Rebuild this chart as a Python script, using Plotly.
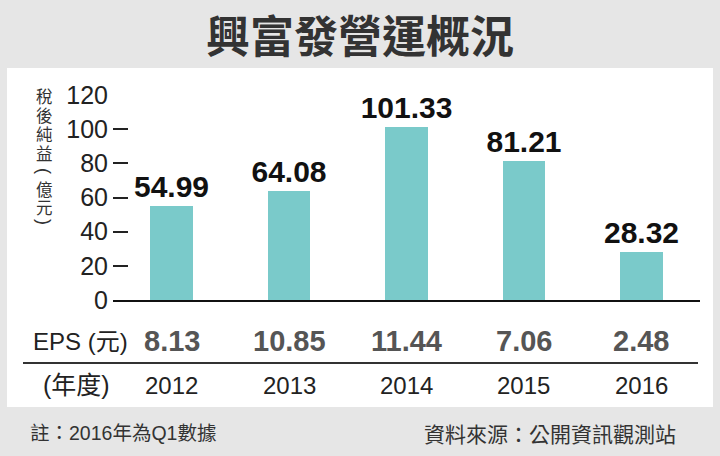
import plotly.graph_objects as go

# ---- data ----
years = ["2012", "2013", "2014", "2015", "2016"]
net_income = [54.99, 64.08, 101.33, 81.21, 28.32]   # 稅後純益(億元)
eps = [8.13, 10.85, 11.44, 7.06, 2.48]               # EPS(元)
y_ticks = [0, 20, 40, 60, 80, 100, 120]

title_text = "興富發營運概況"
y_title_chars = ["稅", "後", "純", "益", "(", "億", "元", ")"]
note_left = "註：2016年為Q1數據"
note_right = "資料來源：公開資訊觀測站"

# ---- layout geometry (pixels) ----
W, H = 720, 456
L, R = 113, 700
T, B = 95, 300   # pixel rows of y=120 and y=0
PW, PH = R - L, B - T

def px(x):
    return (x - L) / PW

def py(y):
    return (B - y) / PH

LAT = "Liberation Sans, Arial, Noto Sans CJK TC, sans-serif"
CJK = "Noto Sans CJK TC, Noto Sans CJK SC, sans-serif"

fig = go.Figure()
fig.add_trace(go.Bar(
    x=years, y=net_income,
    marker=dict(color="#7acaca", line=dict(width=0)),
    width=0.362,
    text=[f"{v:.2f}" for v in net_income],
    textposition="outside",
    constraintext="none",
    textfont=dict(family=LAT, size=30, color="#111111", weight="bold"),
    cliponaxis=False,
    hoverinfo="skip",
))

annotations = []
# title
annotations.append(dict(
    x=px(360), y=py(34), xref="paper", yref="paper", showarrow=False,
    text=title_text, xanchor="center", yanchor="middle",
    font=dict(family=CJK, size=44, color="#333333", weight="bold"),
))
# vertical y-axis title (stacked characters, parentheses turned upright)
char_ys = [96, 115, 134, 153, 171, 189, 207, 222]
for ch, cy in zip(y_title_chars, char_ys):
    paren = ch in "()"
    annotations.append(dict(
        x=px(44), y=py(cy), xref="paper", yref="paper", showarrow=False,
        text=ch, xanchor="center", yanchor="middle",
        textangle=90 if paren else 0,
        font=dict(family=LAT if paren else CJK, size=18 if paren else 16.5, color="#333333"),
    ))
# EPS row
annotations.append(dict(
    x=px(31), y=py(341), xref="paper", yref="paper", showarrow=False,
    text="EPS (元)", xanchor="left", yanchor="middle",
    font=dict(family=LAT, size=24, color="#222222"),
))
for i, v in enumerate(eps):
    annotations.append(dict(
        x=i, y=py(341), xref="x", yref="paper", showarrow=False,
        text=f"{v:.2f}", xanchor="center", yanchor="middle",
        font=dict(family=LAT, size=29, color="#555555", weight="bold"),
    ))
# year row
annotations.append(dict(
    x=px(41), y=py(385), xref="paper", yref="paper", showarrow=False,
    text="(年度)", xanchor="left", yanchor="middle",
    font=dict(family=LAT, size=25, color="#222222"),
))
for i, yr in enumerate(years):
    annotations.append(dict(
        x=i, y=py(385), xref="x", yref="paper", showarrow=False,
        text=yr, xanchor="center", yanchor="middle",
        font=dict(family=LAT, size=24, color="#222222"),
    ))
# notes
annotations.append(dict(
    x=px(28), y=py(433), xref="paper", yref="paper", showarrow=False,
    text=note_left, xanchor="left", yanchor="middle",
    font=dict(family=LAT, size=19.5, color="#333333"),
))
annotations.append(dict(
    x=px(678), y=py(433), xref="paper", yref="paper", showarrow=False,
    text=note_right, xanchor="right", yanchor="middle",
    font=dict(family=CJK, size=21, color="#333333"),
))

shapes = [
    # white panel
    dict(type="rect", xref="paper", yref="paper", layer="below",
         x0=px(7), x1=px(713), y0=py(407), y1=py(68),
         fillcolor="white", line=dict(width=0)),
    # separator line between EPS and year rows
    dict(type="line", xref="paper", yref="paper",
         x0=px(23), x1=px(698), y0=py(363), y1=py(363),
         line=dict(color="#333333", width=2)),
]

fig.update_layout(
    width=W, height=H,
    margin=dict(l=L, r=W - R, t=T, b=H - B, pad=0),
    paper_bgcolor="#e6e6e6",
    plot_bgcolor="rgba(0,0,0,0)",
    showlegend=False,
    bargap=0,
    annotations=annotations,
    shapes=shapes,
    xaxis=dict(
        type="category", range=[-0.5, 4.5],
        showticklabels=False, ticks="", showgrid=False, zeroline=False,
        showline=True, linecolor="#111111", linewidth=2,
        fixedrange=True,
    ),
    yaxis=dict(
        range=[0, 120], tickvals=y_ticks,
        ticks="inside", ticklen=15, tickwidth=1.5, tickcolor="#222222",
        ticklabelstandoff=4,
        tickfont=dict(family="Liberation Sans, Arial, sans-serif", size=25, color="#222222"),
        showgrid=False, zeroline=False, showline=False,
        fixedrange=True,
    ),
)

fig.write_html(
    "out.html",
    config={"displayModeBar": False},
    post_script="document.body.style.margin='0';document.body.style.background='#e6e6e6';",
)
